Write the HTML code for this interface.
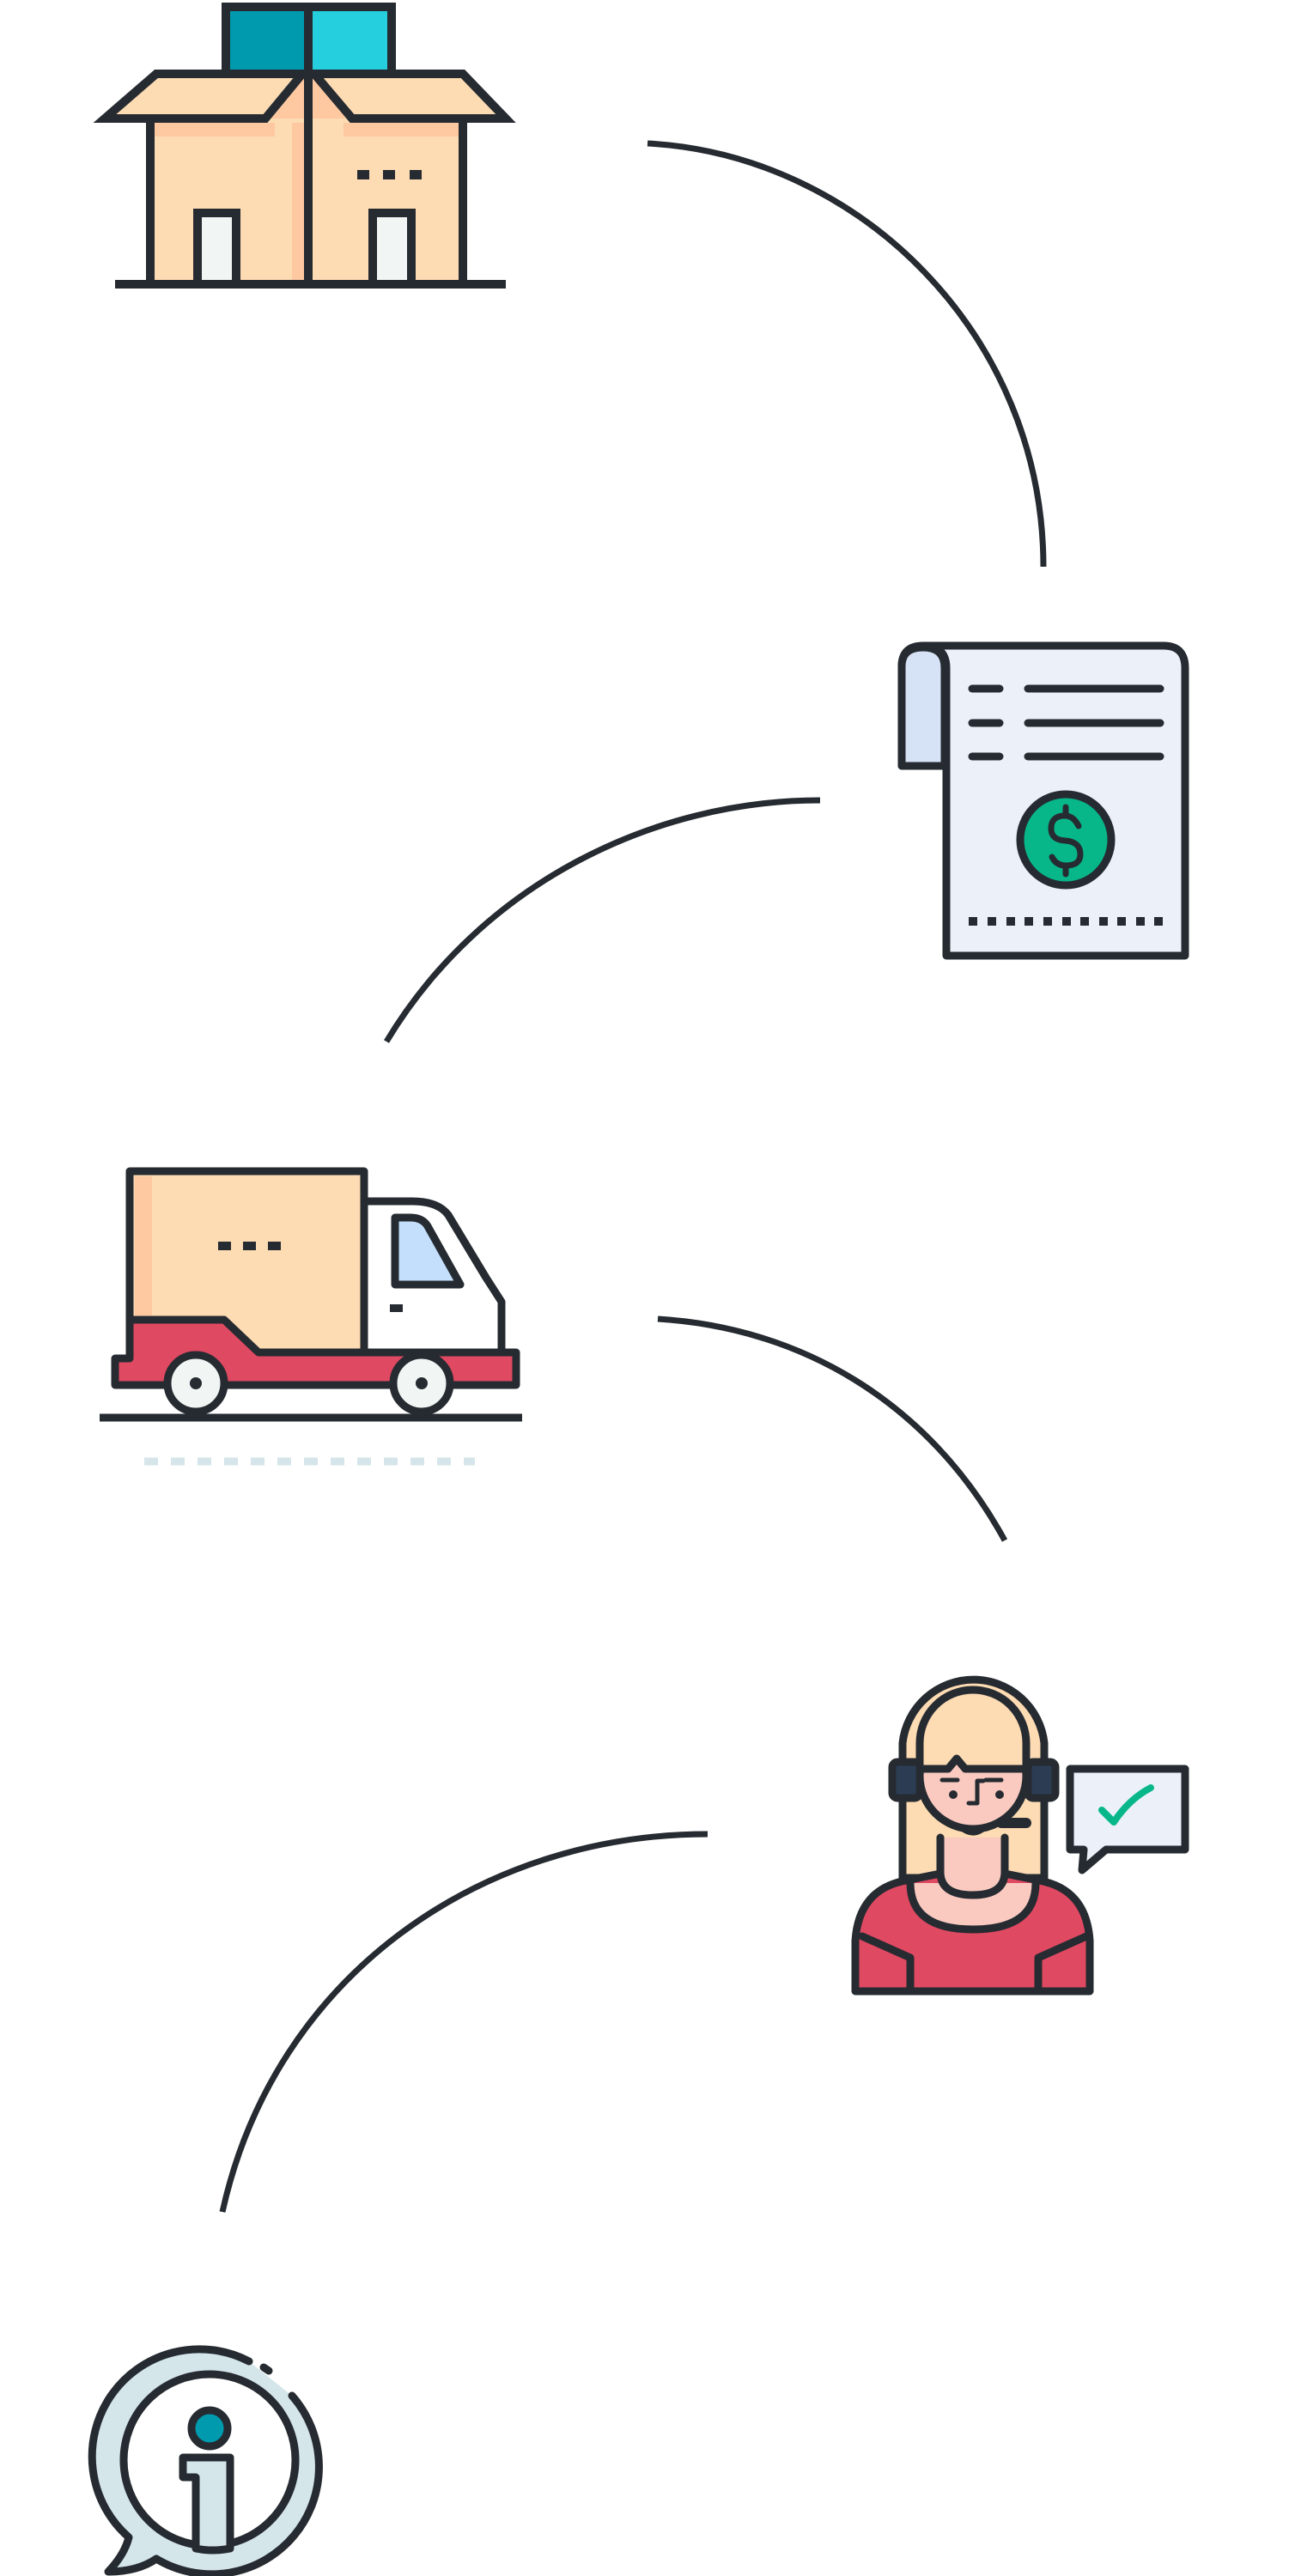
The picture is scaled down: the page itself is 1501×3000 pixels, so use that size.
<!DOCTYPE html>
<html><head><meta charset="utf-8"><style>html,body{margin:0;padding:0;background:#fff;}svg{display:block}</style></head>
<body>
<svg width="1501" height="3000" viewBox="0 0 1501 3000" xmlns="http://www.w3.org/2000/svg">
<g fill="none" stroke="#262b31" stroke-width="7">
<path d="M754 167 C1000 180 1215 390 1215 660"/>
<path d="M955 932 C760 932 560 1030 450 1213"/>
<path d="M766 1536 C930 1546 1080 1630 1170 1794"/>
<path d="M824 2136 C560 2136 320 2300 259 2576"/>
</g>
<!-- BOX -->
<polygon points="309,138 359,84 410,138" fill="#fec9a1"/>
<g stroke="#262b31" stroke-width="10" stroke-linejoin="miter">
<rect x="263" y="8" width="96" height="78" fill="#009aaf"/>
<rect x="359" y="8" width="97" height="78" fill="#25cfdd"/>
<path d="M175 138 V331 H539 V138" fill="#fddbb3"/>
<rect x="230" y="248" width="45" height="83" fill="#f1f6f5"/>
<rect x="434" y="248" width="45" height="83" fill="#f1f6f5"/>
<polygon points="182,86 352,86 309,138 122,138" fill="#fddbb3"/>
<polygon points="366,86 539,86 589,138 410,138" fill="#fddbb3"/>
<line x1="359" y1="84" x2="359" y2="331"/>
<line x1="134" y1="331" x2="589" y2="331"/>
</g>
<rect x="180" y="143" width="140" height="16" fill="#fec9a1"/>
<rect x="400" y="143" width="134" height="16" fill="#fec9a1"/>
<rect x="340" y="143" width="14" height="183" fill="#fec9a1"/>
<g fill="#262b31"><rect x="416" y="198" width="14" height="11"/><rect x="446" y="198" width="14" height="11"/><rect x="477" y="198" width="14" height="11"/></g>
<!-- RECEIPT -->
<g stroke="#262b31" stroke-width="9" stroke-linejoin="round" stroke-linecap="round">
<path d="M1100 892 H1050 V776 Q1050 752 1075 752 H1355 Q1380 752 1380 778 V1113 H1102 V778 Q1102 752 1075 752" fill="#ecf1f9"/>
<path d="M1050 892 V776 Q1050 754 1075 754 Q1100 754 1100 778 V892 Z" fill="#d6e2f5"/>
<line x1="1132" y1="802" x2="1164" y2="802"/><line x1="1197" y1="802" x2="1351" y2="802"/>
<line x1="1132" y1="842" x2="1164" y2="842"/><line x1="1197" y1="842" x2="1351" y2="842"/>
<line x1="1132" y1="881" x2="1164" y2="881"/><line x1="1197" y1="881" x2="1351" y2="881"/>
<circle cx="1241" cy="978" r="53" fill="#07b78a"/>
<path d="M1256 962 Q1250 950 1240 950 Q1224 950 1224 965 Q1224 978 1240 979 Q1258 980 1258 995 Q1258 1008 1241 1008 Q1230 1008 1225 998" fill="none" stroke-width="7"/>
<line x1="1241" y1="940" x2="1241" y2="950" stroke-width="7"/><line x1="1241" y1="1008" x2="1241" y2="1018" stroke-width="7"/>
</g>
<g fill="#262b31">
<rect x="1128" y="1068" width="10" height="10"/><rect x="1150" y="1068" width="10" height="10"/><rect x="1172" y="1068" width="10" height="10"/><rect x="1193" y="1068" width="10" height="10"/><rect x="1215" y="1068" width="10" height="10"/><rect x="1237" y="1068" width="10" height="10"/><rect x="1258" y="1068" width="10" height="10"/><rect x="1280" y="1068" width="10" height="10"/><rect x="1301" y="1068" width="10" height="10"/><rect x="1323" y="1068" width="10" height="10"/><rect x="1344" y="1068" width="10" height="10"/>
</g>
<!-- TRUCK -->
<g stroke="#262b31" stroke-width="9" stroke-linejoin="round">
<path d="M424 1399 H480 Q510 1399 522 1415 L566 1488 L584 1516 V1575 H424 Z" fill="#fff"/>
<path d="M460 1418 H478 Q492 1418 498 1428 L536 1496 H460 Z" fill="#c3dffc"/>
<rect x="151" y="1364" width="273" height="211" fill="#fddbb3"/>
<path d="M134 1582 H151 V1537 H261 L301 1575 H601 V1613 H134 Z" fill="#e04962"/>
<line x1="116" y1="1651" x2="608" y2="1651"/>
<circle cx="228" cy="1611" r="33" fill="#f1f6f5"/>
<circle cx="491" cy="1611" r="33" fill="#f1f6f5"/>
</g>
<rect x="157" y="1370" width="20" height="162" fill="#fec9a1"/>
<g fill="#262b31"><rect x="254" y="1446" width="15" height="10"/><rect x="283" y="1446" width="15" height="10"/><rect x="312" y="1446" width="15" height="10"/><rect x="454" y="1519" width="15" height="9"/><circle cx="228" cy="1611" r="7"/><circle cx="491" cy="1611" r="7"/></g>
<line x1="168" y1="1702" x2="553" y2="1702" stroke="#d5e5ea" stroke-width="9" stroke-dasharray="16 15"/>
<!-- WOMAN -->
<g stroke="#262b31" stroke-width="9" stroke-linejoin="round" stroke-linecap="round">
<path d="M1051 2187 V2030 A83 83 0 0 1 1216 2030 V2187 Z" fill="#fddbb3"/>
<path d="M996 2319 V2260 Q1000 2200 1055 2190 L1095 2182 H1170 L1210 2190 Q1265 2200 1269 2260 V2319 Z" fill="#e04962"/>
<path d="M1060 2193 Q1060 2247 1133 2247 Q1206 2247 1206 2193" fill="#facac0"/>
<path d="M1095 2140 V2180 Q1095 2207 1133 2207 Q1170 2207 1170 2180 V2140" fill="#facac0"/>
<circle cx="1133" cy="2068" r="62" fill="#facac0"/>
<path d="M1071 2060 V2030 A62 62 0 0 1 1195 2030 V2060 H1124 L1114 2048 L1104 2060 Z" fill="#fddbb3"/>
<rect x="1039" y="2052" width="32" height="42" rx="6" fill="#2c3c52"/>
<rect x="1197" y="2052" width="32" height="42" rx="6" fill="#2c3c52"/>
<path d="M1004 2255 L1060 2280 V2319 M1265 2255 L1209 2280 V2319" fill="none"/>
<path d="M1166 2123 H1195" stroke-width="12"/>
<line x1="1097" y1="2073" x2="1115" y2="2073" stroke-width="5"/><line x1="1148" y1="2073" x2="1166" y2="2073" stroke-width="5"/>
<path d="M1145 2074 H1138 V2100 H1128" fill="none" stroke-width="5"/>
<path d="M1120 2130 Q1133 2140 1146 2130" fill="none" stroke-width="5"/>
<path d="M1246 2060 H1380 V2154 H1288 L1260 2178 L1262 2154 H1246 Z" fill="#ecf1f9"/>
<path d="M1283 2108 L1297 2122 Q1315 2095 1340 2082" fill="none" stroke="#07b78a" stroke-width="8"/>
</g>
<g fill="#262b31"><circle cx="1110" cy="2090" r="5"/><circle cx="1164" cy="2090" r="5"/></g>
<!-- INFO -->
<g stroke="#262b31" stroke-width="9" stroke-linejoin="round" stroke-linecap="round">
<path d="M290 2750 A125 125 0 0 0 150 2955 Q145 2975 126 2995 Q160 2995 182 2980 A125 125 0 0 0 340 2790" fill="#d4e6ea"/>
<circle cx="244" cy="2865" r="100" fill="#fff"/>
<path d="M213 2862 H268 V2968 A100 100 0 0 1 228 2968 V2885 H213 Z" fill="#d4e6ea"/>
<circle cx="244" cy="2828" r="21" fill="#009aaf"/>
<line x1="307" y1="2757" x2="313" y2="2761"/>
</g>
</svg>
</body></html>
